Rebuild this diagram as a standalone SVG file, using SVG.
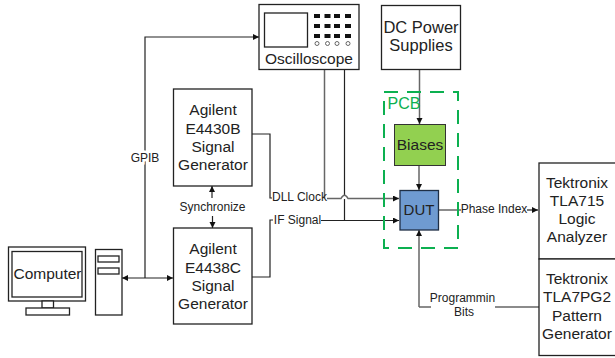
<svg xmlns="http://www.w3.org/2000/svg" width="615" height="358" viewBox="0 0 615 358">
<style>
text{font-family:"Liberation Sans",Arial,sans-serif;fill:#222;text-anchor:middle}
.t{font-size:15.500px}.s{font-size:12px}
.b{fill:#fff;stroke:#222;stroke-width:1.3}
.l{fill:none;stroke:#222;stroke-width:1.2}
.g{fill:none;stroke:#666;stroke-width:1.5}
.k{fill:#111}
.o{fill:#fff;stroke:#444;stroke-width:.8}
</style>
<defs><marker id="a" markerUnits="userSpaceOnUse" markerWidth="7" markerHeight="7" refX="6" refY="3" orient="auto-start-reverse"><path d="M0 0L6 3L0 6Z" fill="#111"/></marker></defs>
<g id="connectors">
<path class="l" marker-end="url(#a)" d="M145 278V37H259"/>
<path class="l" marker-start="url(#a)" marker-end="url(#a)" d="M122 278H173"/>
<path class="l" marker-end="url(#a)" d="M212 198V186"/>
<path class="l" marker-end="url(#a)" d="M212.500 216V228"/>
<path class="l" d="M252 134H270V198H272"/>
<path class="l" d="M252 277H270V220H273"/>
<path class="g" d="M324.500 69V198"/>
<path class="l" d="M344.500 69V196M344.500 199V220"/>
<path class="g" marker-end="url(#a)" d="M327 198.500H341Q344.500 192 348 198.500H399"/>
<path class="l" marker-end="url(#a)" d="M321 220.500H399"/>
<path class="g" marker-end="url(#a)" d="M419.500 69V124"/>
<path class="g" marker-end="url(#a)" d="M419 165V190"/>
<path class="g" d="M438 210H461"/>
<path class="l" marker-end="url(#a)" d="M527 210H538"/>
<path class="g" marker-end="url(#a)" d="M419 307V230"/>
<path class="g" d="M419 307H431M495 307H539"/>
</g>
<g id="pcb"><rect x="384" y="92" width="74" height="156" fill="none" stroke="#0cb050" stroke-width="2" stroke-dasharray="14 9"/><text x="404" y="109" font-size="16" style="fill:#0cb050">PCB</text></g>
<g id="oscilloscope"><rect class="b" x="259" y="4.500" width="100" height="65"/><rect class="b" x="264.500" y="13" width="43" height="34"/>
<g class="k"><rect x="314" y="14" width="6" height="4"/><rect x="324.500" y="14" width="6" height="4"/><rect x="334" y="14" width="6" height="4"/><rect x="345" y="14" width="6" height="4"/><rect x="314" y="24" width="6" height="4"/><rect x="324.500" y="24" width="6" height="4"/><rect x="334" y="24" width="6" height="4"/><rect x="345" y="24" width="6" height="4"/><rect x="314" y="34" width="6" height="4"/><rect x="324.500" y="34" width="6" height="4"/><rect x="334" y="34" width="6" height="4"/><rect x="345" y="34" width="6" height="4"/></g>
<circle class="o" cx="317" cy="43.500" r="2"/><circle class="o" cx="327.500" cy="43.500" r="2"/><circle class="o" cx="337" cy="43.500" r="2"/><circle class="o" cx="348" cy="43.500" r="2"/>
<text class="t" x="309" y="63.500">Oscilloscope</text></g>
<g id="dc-power"><rect class="b" x="381.500" y="5.500" width="79" height="64"/><text x="421" y="33" font-size="16.500">DC Power</text><text x="421" y="51" font-size="16.500">Supplies</text></g>
<g id="biases"><rect x="394.500" y="124.500" width="51" height="41" fill="#92d050" stroke="#333"/><text class="t" x="420" y="150">Biases</text></g>
<g id="dut"><rect x="400" y="190.500" width="38.500" height="39.500" fill="#6f9bd1" stroke="#1f2f45" stroke-width="1.300"/><text x="419" y="215" font-size="15">DUT</text></g>
<g id="e4430b"><rect class="b" x="173.500" y="89" width="78.500" height="97"/><text class="t" x="213" y="115">Agilent</text><text class="t" x="213" y="134">E4430B</text><text class="t" x="213" y="152">Signal</text><text class="t" x="213" y="170">Generator</text></g>
<g id="e4438c"><rect class="b" x="173.500" y="228" width="78.500" height="96"/><text class="t" x="213" y="254">Agilent</text><text class="t" x="213" y="273">E4438C</text><text class="t" x="213" y="291">Signal</text><text class="t" x="213" y="309">Generator</text></g>
<g id="computer"><rect class="b" x="8.500" y="247" width="77" height="54"/><rect class="b" x="12" y="251.500" width="70" height="45.500"/><rect class="b" x="42" y="301" width="11.500" height="7"/><rect class="b" x="26" y="308" width="43.500" height="7"/><text class="t" x="47.500" y="279">Computer</text></g>
<g id="tower"><rect class="b" x="95.500" y="249.500" width="26.500" height="65.500"/><rect class="b" x="98" y="256" width="21" height="6"/><rect class="b" x="98" y="268" width="21" height="6"/></g>
<g id="tla715"><rect class="b" x="539" y="163" width="78" height="96"/><text class="t" x="577" y="188">Tektronix</text><text class="t" x="577" y="206">TLA715</text><text class="t" x="577" y="224">Logic</text><text class="t" x="577" y="242">Analyzer</text></g>
<g id="tla7pg2"><rect class="b" x="539" y="259" width="78" height="96.500"/><text class="t" x="577" y="284">Tektronix</text><text class="t" x="577" y="302">TLA7PG2</text><text class="t" x="577" y="321">Pattern</text><text class="t" x="577" y="339">Generator</text></g>
<g id="labels"><text class="s" x="145" y="162" style="paint-order:stroke" stroke="#fff" stroke-width="5">GPIB</text><text class="s" x="212.500" y="211">Synchronize</text><text class="s" x="299.500" y="201">DLL Clock</text><text class="s" x="297.500" y="224">IF Signal</text><text class="s" x="494" y="213">Phase Index</text><text class="s" x="462.500" y="302">Programmin</text><text class="s" x="464" y="316">Bits</text></g>
</svg>
